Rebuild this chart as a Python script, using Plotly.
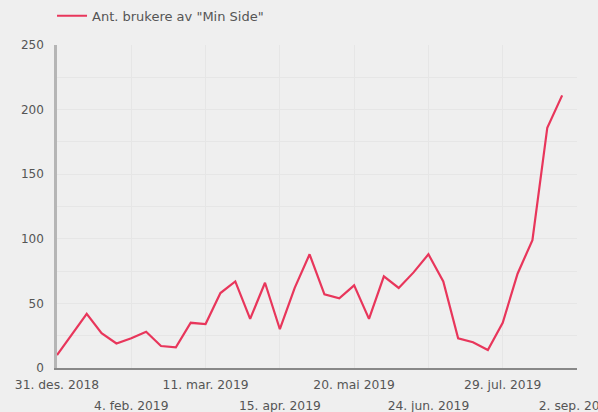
import plotly.graph_objects as go
import pandas as pd

start_date = "2018-12-31"
values = [10, 26, 42, 27, 19, 23, 28, 17, 16, 35, 34, 58, 67, 38, 66, 30, 62,
          88, 57, 54, 64, 38, 71, 62, 74, 88, 67, 23, 20, 14, 35, 73, 99, 186, 211]
series_name = 'Ant. brukere av "Min Side"'

row1_ticks = ["2018-12-31", "2019-03-11", "2019-05-20", "2019-07-29"]
row1_text = ["31. des. 2018", "11. mar. 2019", "20. mai 2019", "29. jul. 2019"]
row2_ticks = ["2019-02-04", "2019-04-15", "2019-06-24", "2019-09-02"]
row2_text = ["4. feb. 2019", "15. apr. 2019", "24. jun. 2019", "2. sep. 2019"]

dates = pd.date_range(start_date, periods=len(values), freq="7D")

bg = "#efefef"
grid = "#e6e6e6"
txt = "#555555"
font_family = "DejaVu Sans"

fig = go.Figure()
fig.add_trace(go.Scatter(x=dates, y=values, mode="lines", name=series_name,
                         line=dict(color="#e8365b", width=2.2)))
fig.add_trace(go.Scatter(x=dates, y=values, mode="lines", xaxis="x2",
                         line=dict(width=0, color="rgba(0,0,0,0)"),
                         showlegend=False, hoverinfo="skip"))

x_range = ["2018-12-31", "2019-09-02"]
fig.update_layout(
    width=598, height=412,
    paper_bgcolor=bg, plot_bgcolor=bg,
    margin=dict(l=57, r=21, t=45, b=44, autoexpand=False),
    font=dict(family=font_family, size=12, color=txt),
    showlegend=True,
    legend=dict(orientation="h", xref="container", yref="container",
                x=0.087, xanchor="left", y=0.998, yanchor="top",
                bgcolor="rgba(0,0,0,0)", font=dict(size=13, color=txt)),
    xaxis=dict(type="date", range=x_range, tickmode="array",
               tickvals=row1_ticks, ticktext=row1_text, automargin=False,
               showgrid=True, gridcolor=grid, gridwidth=1,
               showline=True, linecolor="#888888", linewidth=1.5,
               ticks="", zeroline=False, ticklabelstandoff=4,
               ticklabeloverflow="allow",
               tickfont=dict(size=12.3, color=txt)),
    xaxis2=dict(type="date", overlaying="x", matches="x", side="bottom", anchor="y",
                range=x_range, tickmode="array", automargin=False,
                tickvals=row2_ticks, ticktext=row2_text,
                showgrid=True, gridcolor=grid, gridwidth=1,
                showline=False, ticks="", ticklabelstandoff=29,
                ticklabeloverflow="allow",
                tickfont=dict(size=12.3, color=txt)),
    yaxis=dict(range=[0, 250], dtick=50, tick0=0, automargin=False,
               showgrid=True, gridcolor=grid, gridwidth=1,
               minor=dict(dtick=25, showgrid=True, gridcolor=grid, gridwidth=1),
               showline=True, linecolor="#b5b5b5", linewidth=2.5,
               ticks="", zeroline=False, ticklabelstandoff=8,
               tickfont=dict(size=12, color=txt)),
)

fig.write_html(
    "out.html",
    config={"displayModeBar": False},
    post_script="document.body.style.margin='0';document.body.style.background='#efefef';",
)
